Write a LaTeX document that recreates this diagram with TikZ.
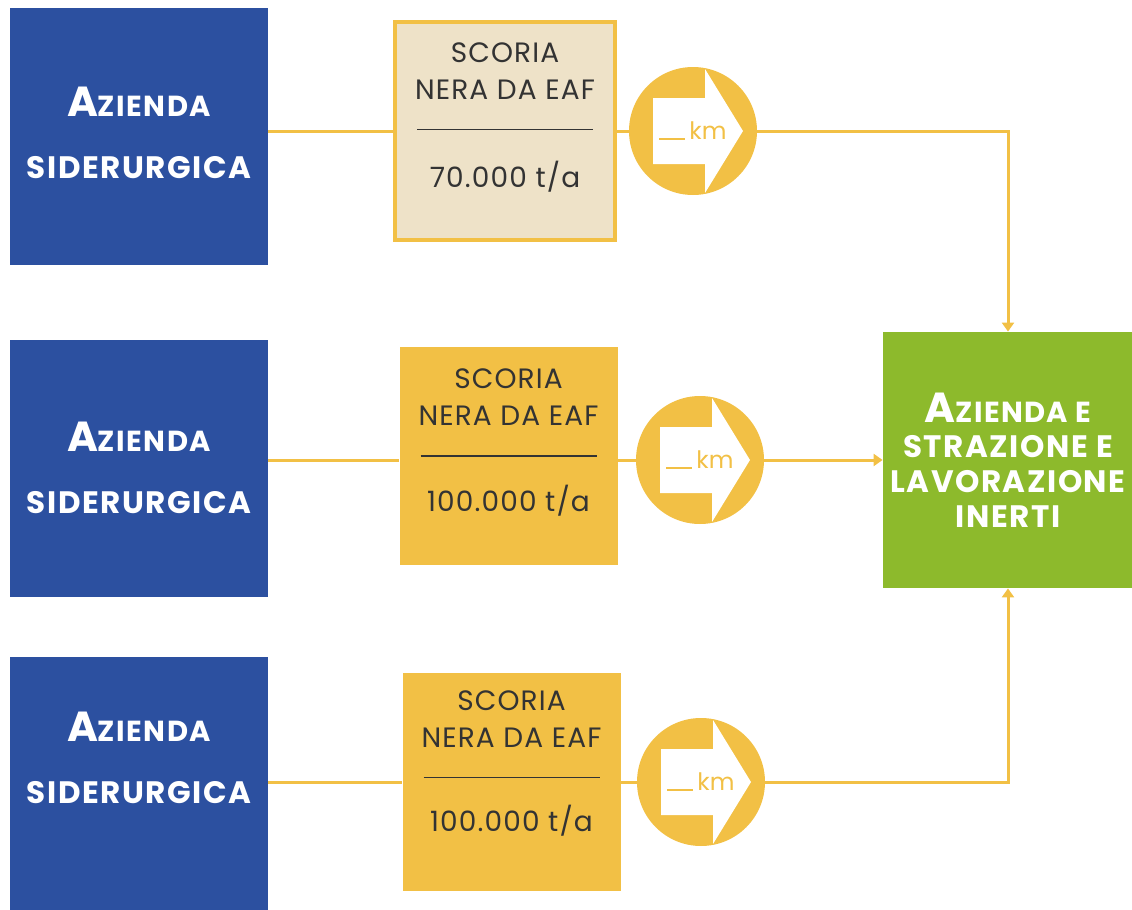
\documentclass[tikz,border=0pt]{standalone}
\usepackage{fontspec}
\setmainfont{Poppins}
\newfontfamily\widesans[LetterSpace=5]{Poppins}
\newfontfamily\slagsans[LetterSpace=4]{Poppins}
\usetikzlibrary{positioning,arrows.meta}

\definecolor{steelblue}{HTML}{2C50A0}
\definecolor{slagyellow}{HTML}{F2C045}
\definecolor{slagbeige}{HTML}{EEE2C8}
\definecolor{quarrygreen}{HTML}{8DBA2C}
\definecolor{slagtext}{HTML}{333333}

\tikzset{
  plant/.style={fill=steelblue, minimum width=129pt, minimum height=128.5pt,
    inner sep=0pt, text=white, align=center,
    font=\widesans\bfseries\fontsize{15.5}{19}\selectfont},
  slagbox/.style={fill=slagyellow, minimum width=109pt, minimum height=109pt,
    inner sep=0pt},
  slagtext/.style={align=center, inner sep=0pt, text=slagtext,
    font=\slagsans\fontsize{14}{18.5}\selectfont},
  kmdisc/.style={circle, fill=slagyellow, minimum size=64pt, inner sep=0pt,
    text=slagyellow, font=\fontsize{12}{13}\selectfont,
    path picture={
      \fill[white] ([shift={(-40,-33)}]path picture bounding box.center)
        -- ([shift={(12,-33)}]path picture bounding box.center)
        -- ([shift={(12,-62)}]path picture bounding box.center)
        -- ([shift={(50,0)}]path picture bounding box.center)
        -- ([shift={(12,62)}]path picture bounding box.center)
        -- ([shift={(12,33)}]path picture bounding box.center)
        -- ([shift={(-40,33)}]path picture bounding box.center) -- cycle;
    }},
  link/.style={draw=slagyellow, line width=1.5pt},
  feed/.style={link, -{Triangle[width=6pt,length=4.5pt]}}
}

\newcommand{\firm}{{\fontsize{21}{19}\selectfont A}{\fontsize{14.5}{19}\selectfont ZIENDA}}
\newcommand{\dist}{\rule{13pt}{0.9pt}\,km}

\begin{document}
\begin{tikzpicture}[x=0.5pt, y=-0.5pt]
  \useasboundingbox (0,0) rectangle (1132,910);

  \node (b1) [plant, text depth=4pt] at (139,136.5) {\firm\\[12pt]SIDERURGICA};
  \node (b2) [plant] at (139,468) {\firm\\[12pt]SIDERURGICA};
  \node (b3) [plant, minimum height=129pt, text depth=28pt] at (139,785.5)
    {\firm\\[12pt]SIDERURGICA};

  \node (s1) [slagbox, fill=slagbeige, draw=slagyellow, line width=2pt,
    minimum width=110pt, minimum height=109pt] at (505,131) {};
  \node (t1) [slagtext, below=11pt of s1.north]
    {SCORIA\\NERA DA EAF\\[-3pt]\rule{88pt}{0.8pt}\\[10pt]70.000 t/a};
  \node (s2) [slagbox] at (508.5,456) {};
  \node (t2) [slagtext, below=11pt of s2.north]
    {SCORIA\\NERA DA EAF\\[-3pt]\rule{88pt}{0.8pt}\\[9pt]100.000 t/a};
  \node (s3) [slagbox] at (511.5,781.5) {};
  \node (t3) [slagtext, below=9pt of s3.north]
    {SCORIA\\NERA DA EAF\\[-3pt]\rule{88pt}{0.8pt}\\[8pt]100.000 t/a};

  \node (d1) [kmdisc] at (693,131) {\dist};
  \node (d2) [kmdisc] at (700,460) {\dist};
  \node (d3) [kmdisc] at (701,782) {\dist};

  \node (g) [fill=quarrygreen, minimum width=125pt, minimum height=128pt,
    inner sep=0pt, text=white, align=center,
    font=\widesans\bfseries\fontsize{15.5}{17.5}\selectfont] at (1008,460)
    {{\fontsize{21}{17.5}\selectfont A}{\fontsize{14.5}{17.5}\selectfont ZIENDA E}\\STRAZIONE E\\LAVORAZIONE\\INERTI};

  \draw[link] (b1.east |- d1) -- (s1.west |- d1);
  \draw[link] (s1.east |- d1) -- (d1);
  \draw[feed] (d1) -| (g.north);

  \draw[link] (b2.east |- d2) -- (s2.west |- d2);
  \draw[link] (s2.east |- d2) -- (d2);
  \draw[feed] (d2) -- (g.west);

  \draw[link] (b3.east |- d3) -- (s3.west |- d3);
  \draw[link] (s3.east |- d3) -- (d3);
  \draw[feed] (d3) -| (g.south);
\end{tikzpicture}
\end{document}
